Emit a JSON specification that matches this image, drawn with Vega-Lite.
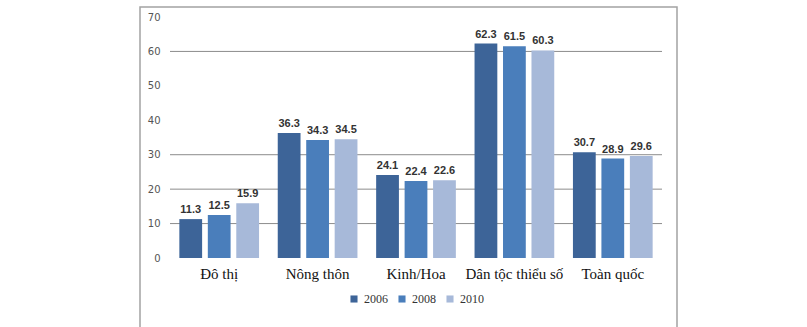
{
  "$schema": "https://vega.github.io/schema/vega-lite/v6.json",
  "width": 537,
  "height": 322,
  "autosize": "none",
  "padding": {"left": 140, "top": 7, "right": 130, "bottom": 0},
  "background": "white",
  "config": {"view": {"stroke": "#a3a3a3", "strokeWidth": 1.5}},
  "datasets": {
    "bars": [
      {"group": "Đô thị", "year": "2006", "value": 11.3},
      {"group": "Đô thị", "year": "2008", "value": 12.5},
      {"group": "Đô thị", "year": "2010", "value": 15.9},
      {"group": "Nông thôn", "year": "2006", "value": 36.3},
      {"group": "Nông thôn", "year": "2008", "value": 34.3},
      {"group": "Nông thôn", "year": "2010", "value": 34.5},
      {"group": "Kinh/Hoa", "year": "2006", "value": 24.1},
      {"group": "Kinh/Hoa", "year": "2008", "value": 22.4},
      {"group": "Kinh/Hoa", "year": "2010", "value": 22.6},
      {"group": "Dân tộc thiểu số", "year": "2006", "value": 62.3},
      {"group": "Dân tộc thiểu số", "year": "2008", "value": 61.5},
      {"group": "Dân tộc thiểu số", "year": "2010", "value": 60.3},
      {"group": "Toàn quốc", "year": "2006", "value": 30.7},
      {"group": "Toàn quốc", "year": "2008", "value": 28.9},
      {"group": "Toàn quốc", "year": "2010", "value": 29.6}
    ],
    "grid": [{"g": 10, "a": 0, "b": 1}, {"g": 20, "a": 0, "b": 1}, {"g": 30, "a": 0, "b": 1}, {"g": 60, "a": 0, "b": 1}]
  },
  "resolve": {"scale": {"x": "independent"}, "axis": {"x": "independent"}},
  "layer": [
    {
      "data": {"name": "grid"},
      "mark": {"type": "rule", "color": "#8c8c8c", "strokeWidth": 1},
      "encoding": {
        "x": {"field": "a", "type": "quantitative", "scale": {"domain": [0, 1], "range": [30, 522]}, "axis": null},
        "x2": {"field": "b"},
        "y": {"field": "g", "type": "quantitative", "scale": {"domain": [0, 70], "range": [251, 10]},
          "axis": {"title": null, "values": [0, 10, 20, 30, 40, 50, 60, 70], "labelOverlap": false, "grid": false, "domain": false, "ticks": false, "labelColor": "#555", "labelFontSize": 10, "labelFont": "DejaVu Sans", "labelPadding": 10, "offset": -30}}
      }
    },
    {
      "data": {"name": "bars"},
      "encoding": {
        "x": {
          "field": "group", "type": "nominal", "sort": null,
          "scale": {"paddingInner": 0.19, "paddingOuter": 0.095, "range": [30, 522]},
          "axis": {"title": null, "labelAngle": 0, "domain": false, "ticks": false, "labelFont": "Liberation Serif", "labelFontSize": 15, "labelColor": "#111", "labelPadding": 8, "offset": -71}
        },
        "xOffset": {"field": "year", "type": "nominal", "scale": {"paddingInner": 0.2}},
        "y": {
          "field": "value", "type": "quantitative",
          "scale": {"domain": [0, 70], "range": [251, 10]},
          "axis": {"title": null, "values": [0, 10, 20, 30, 40, 50, 60, 70], "labelOverlap": false, "grid": false, "domain": false, "ticks": false, "labelColor": "#555", "labelFontSize": 10, "labelFont": "DejaVu Sans", "labelPadding": 10, "offset": -30}
        }
      },
      "layer": [
        {
          "mark": {"type": "bar"},
          "encoding": {
            "color": {
              "field": "year", "type": "nominal",
              "scale": {"domain": ["2006", "2008", "2010"], "range": ["#3d6498", "#4a7ebb", "#a7b9d9"]},
              "legend": {"title": null, "orient": "none", "legendX": 208, "legendY": 286, "direction": "horizontal", "symbolType": "square", "symbolSize": 50, "labelFontSize": 12, "labelFont": "Liberation Serif", "labelColor": "#333", "columnPadding": 8}
            }
          }
        },
        {
          "mark": {"type": "text", "dy": -9, "fontSize": 11, "fontWeight": "bold", "font": "Liberation Sans", "color": "#333"},
          "encoding": {"text": {"field": "value", "type": "quantitative", "format": ".1f"}}
        }
      ]
    }
  ]
}
